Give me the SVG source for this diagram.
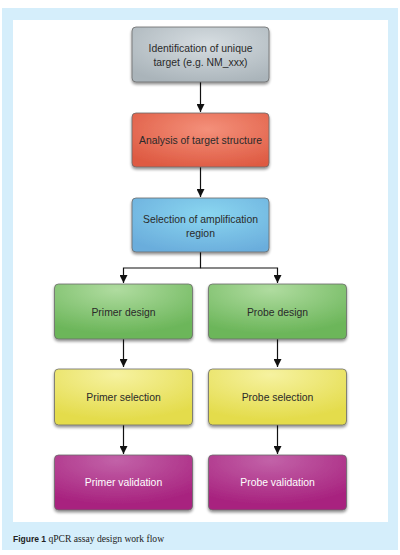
<svg xmlns="http://www.w3.org/2000/svg" width="400" height="555" viewBox="0 0 400 555">
<defs>
<radialGradient id="gGray" cx="0.55" cy="0.3" r="0.75"><stop offset="0" stop-color="#d6dde1"/><stop offset="1" stop-color="#aab4ba"/></radialGradient>
<radialGradient id="gRed" cx="0.55" cy="0.3" r="0.75"><stop offset="0" stop-color="#f4907a"/><stop offset="1" stop-color="#de5a42"/></radialGradient>
<radialGradient id="gBlue" cx="0.55" cy="0.3" r="0.75"><stop offset="0" stop-color="#8ad6f0"/><stop offset="1" stop-color="#6aaddc"/></radialGradient>
<radialGradient id="gGreen" cx="0.45" cy="0.1" r="0.8"><stop offset="0" stop-color="#b0dca0"/><stop offset="1" stop-color="#6cb65a"/></radialGradient>
<radialGradient id="gYellow" cx="0.45" cy="0.1" r="0.8"><stop offset="0" stop-color="#f6f2a0"/><stop offset="1" stop-color="#e4dc4c"/></radialGradient>
<radialGradient id="gPurple" cx="0.45" cy="0.1" r="0.8"><stop offset="0" stop-color="#c262a8"/><stop offset="1" stop-color="#a8237f"/></radialGradient>
<filter id="sh" x="-10%" y="-10%" width="120%" height="130%"><feGaussianBlur in="SourceAlpha" stdDeviation="1.5"/><feOffset dy="2" result="b"/><feComponentTransfer><feFuncA type="linear" slope="0.45"/></feComponentTransfer><feMerge><feMergeNode/><feMergeNode in="SourceGraphic"/></feMerge></filter>
<marker id="arr" viewBox="0 0 10 10" refX="10" refY="5" markerWidth="8" markerHeight="8" markerUnits="userSpaceOnUse" orient="auto"><path d="M0,0 L10,5 L0,10 z" fill="#111"/></marker>
</defs>
<style>
.box{stroke:#6b6b6b;stroke-width:0.8;filter:url(#sh)}
.t{font-family:"Liberation Sans",Arial,sans-serif;font-size:10.4px;fill:#2a2a2a;text-anchor:middle}
.tw{fill:#ffffff}
.c{stroke:#111;stroke-width:1.2;fill:none}
</style>
<rect x="2" y="8" width="396" height="542" fill="#d5eefb"/>
<rect x="13" y="20" width="375" height="502" fill="#ffffff"/>
<g id="connectors">
<line class="c" x1="200.5" y1="82" x2="200.5" y2="112" marker-end="url(#arr)"/>
<line class="c" x1="200.5" y1="167" x2="200.5" y2="197" marker-end="url(#arr)"/>
<polyline class="c" points="200.5,252 200.5,268 123.5,268 123.5,283" marker-end="url(#arr)"/>
<polyline class="c" points="200.5,268 277.5,268 277.5,283" marker-end="url(#arr)"/>
<line class="c" x1="123.5" y1="339" x2="123.5" y2="367" marker-end="url(#arr)"/>
<line class="c" x1="277.5" y1="339" x2="277.5" y2="367" marker-end="url(#arr)"/>
<line class="c" x1="123.5" y1="425" x2="123.5" y2="454" marker-end="url(#arr)"/>
<line class="c" x1="277.5" y1="425" x2="277.5" y2="454" marker-end="url(#arr)"/>
</g>
<g id="n1"><rect class="box" x="132" y="27" width="137" height="55" rx="4" fill="url(#gGray)"/><text class="t" x="200.5" y="52">Identification of unique</text><text class="t" x="200.5" y="65.5">target (e.g. NM_xxx)</text></g>
<g id="n2"><rect class="box" x="132" y="113" width="137" height="54" rx="4" fill="url(#gRed)"/><text class="t" x="200.5" y="143.5">Analysis of target structure</text></g>
<g id="n3"><rect class="box" x="132" y="198" width="137" height="54" rx="4" fill="url(#gBlue)"/><text class="t" x="200.5" y="223">Selection of amplification</text><text class="t" x="200.5" y="236.5">region</text></g>
<g id="n4"><rect class="box" x="54.5" y="284" width="138" height="55" rx="4" fill="url(#gGreen)"/><text class="t" x="123.5" y="315.5">Primer design</text></g>
<g id="n5"><rect class="box" x="208.5" y="284" width="138" height="55" rx="4" fill="url(#gGreen)"/><text class="t" x="277.5" y="315.5">Probe design</text></g>
<g id="n6"><rect class="box" x="54.5" y="369" width="138" height="56" rx="4" fill="url(#gYellow)"/><text class="t" x="123.5" y="401">Primer selection</text></g>
<g id="n7"><rect class="box" x="208.5" y="369" width="138" height="56" rx="4" fill="url(#gYellow)"/><text class="t" x="277.5" y="401">Probe selection</text></g>
<g id="n8"><rect class="box" x="54.5" y="455" width="138" height="55" rx="4" fill="url(#gPurple)"/><text class="t tw" x="123.5" y="486">Primer validation</text></g>
<g id="n9"><rect class="box" x="208.5" y="455" width="138" height="55" rx="4" fill="url(#gPurple)"/><text class="t tw" x="277.5" y="486">Probe validation</text></g>
<text x="13" y="541.5" font-family="'Liberation Sans',Arial,sans-serif" font-size="8.5" font-weight="bold" fill="#222">Figure 1 <tspan font-family="'Liberation Serif','Times New Roman',serif" font-weight="normal" font-size="9.6">qPCR assay design work flow</tspan></text>
</svg>
